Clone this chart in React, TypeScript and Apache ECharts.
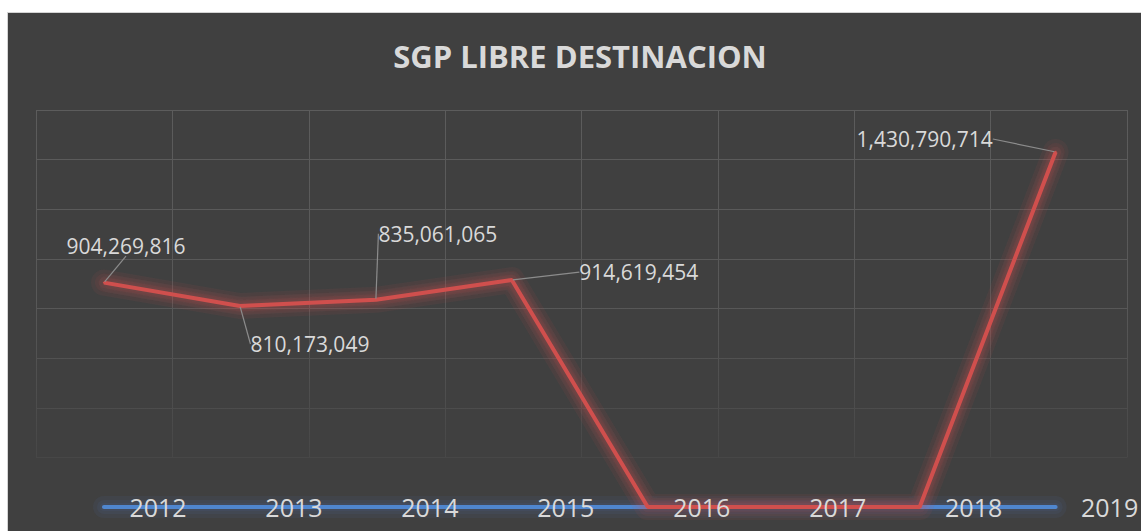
import React, { useEffect, useRef } from 'react';
import * as echarts from 'echarts';

const chartTitle = 'SGP LIBRE DESTINACION';
const years = ['2012', '2013', '2014', '2015', '2016', '2017', '2018', '2019'];
const sgpValues = [904269816, 810173049, 835061065, 914619454, 0, 0, 0, 1430790714];
const baseValues = [0, 0, 0, 0, 0, 0, 0, 0];
// label placement offsets (layout only), [dx, dy] from each point
const labelOffsets = [[22, -37], [70, 38], [62, -66], [127, -8], [0, 0], [0, 0], [0, 0], [-131, -13]];

const fmt = (v: number) => v.toLocaleString('en-US');

export default function App() {
  const ref = useRef<HTMLDivElement>(null);
  useEffect(() => {
    const chart = echarts.init(ref.current!, null, { renderer: 'svg' });
    const gridColor = new echarts.graphic.LinearGradient(
      0, 110, 0, 458,
      [
        { offset: 0, color: '#5c5c5c' },
        { offset: 0.55, color: '#585858' },
        { offset: 1, color: '#474747' },
      ],
      true
    );
    const redData = sgpValues.map((v) =>
      v === 0 ? { value: v, label: { show: false }, labelLine: { show: false } } : v
    );
    const glow = (data: number[], rgb: string, widths: number[], alpha: number, z: number) =>
      widths.map((w) => ({
        type: 'line',
        xAxisIndex: 0,
        yAxisIndex: 0,
        data,
        symbol: 'none',
        silent: true,
        z,
        lineStyle: { color: `rgba(${rgb},${alpha})`, width: w, cap: 'round', join: 'round' },
      }));
    chart.setOption({
      animation: false,
      backgroundColor: 'transparent',
      graphic: [
        {
          type: 'text',
          x: 580,
          y: 56,
          style: {
            text: chartTitle,
            textAlign: 'center',
            textVerticalAlign: 'middle',
            fontFamily: 'Open Sans',
            fontWeight: 'bold',
            fontSize: 31,
            fill: '#d9d9d9',
          },
        },
      ],
      grid: [
        { left: 36, right: 14, top: 110, bottom: 24 },
        { left: 36, right: 14, top: 110, bottom: 73.6 },
      ],
      xAxis: [
        {
          type: 'category',
          gridIndex: 0,
          data: years,
          boundaryGap: true,
          z: 10,
          axisLine: { show: false },
          axisTick: { show: false },
          splitLine: { show: false },
          axisLabel: {
            color: '#d9d9d9',
            fontSize: 25,
            fontFamily: 'Open Sans',
            margin: 0,
            verticalAlign: 'middle',
            padding: [0, 0, 0, 108],
          },
        },
        {
          type: 'category',
          gridIndex: 1,
          data: years,
          boundaryGap: true,
          axisLine: { show: false },
          axisTick: { show: false },
          axisLabel: { show: false },
          splitLine: { show: true, lineStyle: { color: gridColor, width: 1 } },
        },
      ],
      yAxis: [
        {
          type: 'value',
          gridIndex: 0,
          min: 0,
          max: 1600000000,
          interval: 200000000,
          axisLine: { show: false },
          axisTick: { show: false },
          axisLabel: { show: false },
          splitLine: { show: false },
        },
        {
          type: 'value',
          gridIndex: 1,
          min: 200000000,
          max: 1600000000,
          interval: 200000000,
          axisLine: { show: false },
          axisTick: { show: false },
          axisLabel: { show: false },
          splitLine: { show: true, lineStyle: { color: gridColor, width: 1 } },
        },
      ],
      series: [
        ...glow(baseValues, '79,134,207', [22, 14, 8], 0.07, 1),
        {
          type: 'line',
          xAxisIndex: 0,
          yAxisIndex: 0,
          data: baseValues,
          symbol: 'none',
          z: 2,
          lineStyle: { color: '#4f86cf', width: 4, cap: 'round' },
        },
        ...glow(sgpValues, '208,80,78', [26, 18, 11], 0.07, 2),
        {
          type: 'line',
          xAxisIndex: 0,
          yAxisIndex: 0,
          data: redData,
          symbol: 'circle',
          symbolSize: 2,
          z: 3,
          itemStyle: { color: '#d0504e' },
          lineStyle: {
            color: '#d0504e',
            width: 4,
            shadowBlur: 10,
            shadowColor: 'rgba(208,70,70,0.6)',
          },
          label: {
            show: true,
            position: 'inside',
            formatter: (p: any) => fmt(p.value),
            color: '#d9d9d9',
            fontSize: 21,
            fontFamily: 'Open Sans',
          },
          labelLine: { show: true, lineStyle: { color: '#8c8c8c', width: 1.2 } },
          labelLayout: (p: any) => {
            const o = labelOffsets[p.dataIndex] || [0, 0];
            return { dx: o[0], dy: o[1] };
          },
        },
      ],
    });
    return () => chart.dispose();
  }, []);
  return (
    <div style={{ position: 'absolute', left: 0, top: 0, width: 1141, height: 531, background: '#ffffff', overflow: 'hidden' }}>
      <div
        style={{
          position: 'absolute',
          left: 7,
          top: 12,
          width: 1134,
          height: 519,
          background: '#404040',
          borderLeft: '1px solid #d4d4d4',
          borderTop: '1px solid #d4d4d4',
          boxSizing: 'border-box',
        }}
      />
      <div ref={ref} style={{ position: 'absolute', left: 0, top: 0, width: 1141, height: 531 }} />
    </div>
  );
}
